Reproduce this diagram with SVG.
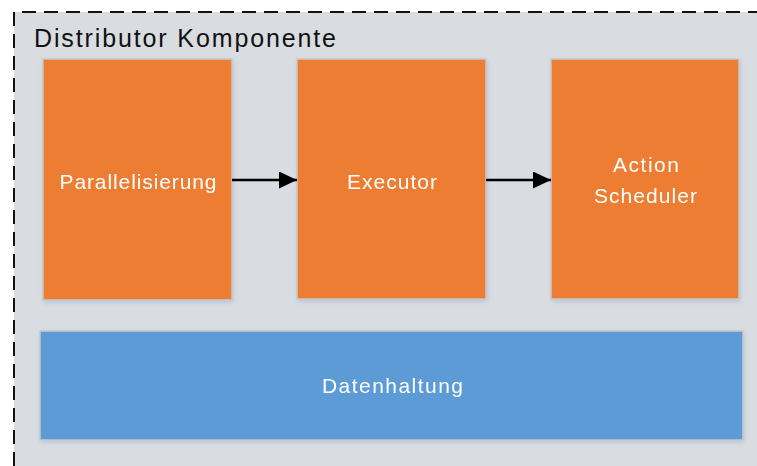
<svg xmlns="http://www.w3.org/2000/svg" width="757" height="466" viewBox="0 0 757 466">
  <defs>
    <style>
      .box { stroke: #c9c9c9; stroke-width: 1.5; }
      .proc { fill: #ed7d31; }
      .store { fill: #5b9bd5; }
      .lbl { font-family: "Liberation Sans", Arial, sans-serif; font-size: 21px; fill: #ffffff; text-anchor: middle; }
      .title { font-family: "Liberation Sans", Arial, sans-serif; font-size: 25px; fill: #111111; }
      .conn { stroke: #000000; stroke-width: 2.5; fill: none; marker-end: url(#arrow); }
    </style>
    <marker id="arrow" markerWidth="18" markerHeight="17" refX="18" refY="8.5" orient="auto" markerUnits="userSpaceOnUse" viewBox="0 0 18 17">
      <path d="M0,0 L18,8.5 L0,17 Z" fill="#000000"/>
    </marker>
    <filter id="shadow" x="-10%" y="-10%" width="120%" height="120%">
      <feDropShadow dx="1" dy="2" stdDeviation="2" flood-color="#7a9cc0" flood-opacity="0.35"/>
    </filter>
  </defs>

  <rect width="757" height="466" fill="#ffffff"/>

  <!-- container: only the top and left edges fall inside the canvas -->
  <g id="distributor">
    <rect x="14" y="12" width="743" height="454" fill="#d9dde1"/>
    <path d="M14,466 L14,12 L757,12" fill="none" stroke="#111111" stroke-width="2" stroke-dasharray="14,8"/>
    <text class="title" x="34" y="47" textLength="302" lengthAdjust="spacing">Distributor Komponente</text>
  </g>

  <g id="parallelisierung" filter="url(#shadow)">
    <rect class="box proc" x="43" y="59" width="189" height="241"/>
    <text class="lbl" x="138" y="189" textLength="157" lengthAdjust="spacing">Parallelisierung</text>
  </g>

  <g id="executor" filter="url(#shadow)">
    <rect class="box proc" x="297" y="59" width="189" height="240"/>
    <text class="lbl" x="392" y="189" textLength="90" lengthAdjust="spacing">Executor</text>
  </g>

  <g id="action-scheduler" filter="url(#shadow)">
    <rect class="box proc" x="551" y="59" width="188" height="240"/>
    <text class="lbl" x="646" y="172" textLength="66" lengthAdjust="spacing">Action</text>
    <text class="lbl" x="645.5" y="203" textLength="103" lengthAdjust="spacing">Scheduler</text>
  </g>

  <g id="datenhaltung" filter="url(#shadow)">
    <rect class="box store" x="40" y="331" width="703" height="109"/>
    <text class="lbl" x="392.5" y="393" textLength="141" lengthAdjust="spacing">Datenhaltung</text>
  </g>

  <g id="connectors">
    <line class="conn" x1="232" y1="180" x2="297" y2="180"/>
    <line class="conn" x1="486" y1="180" x2="551" y2="180"/>
  </g>
</svg>
